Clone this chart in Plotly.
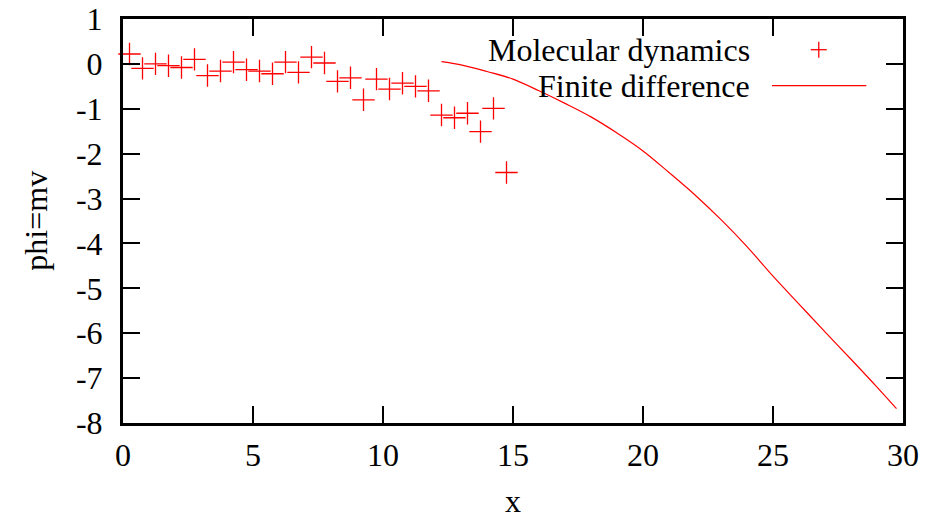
import plotly.graph_objects as go

# Molecular dynamics samples
md_x = [0.25, 0.75, 1.25, 1.75, 2.25, 2.75, 3.25, 3.75, 4.25, 4.75,
        5.25, 5.75, 6.25, 6.75, 7.25, 7.75, 8.25, 8.75, 9.25, 9.75,
        10.25, 10.75, 11.25, 11.75, 12.25, 12.75, 13.25, 13.75, 14.25, 14.75]
md_y = [0.22, -0.10, 0.00, -0.04, -0.08, 0.10, -0.26, -0.16, 0.04, -0.13,
        -0.16, -0.22, 0.04, -0.19, 0.15, 0.02, -0.39, -0.31, -0.80, -0.34,
        -0.56, -0.43, -0.50, -0.60, -1.14, -1.20, -1.10, -1.51, -0.99, -2.42]

# Finite difference curve
fd_x = [12.25, 13, 14, 15, 16, 17, 18, 19, 20, 21, 22, 23, 24, 25, 26, 27, 28, 29, 29.75]
fd_y = [0.05, -0.02, -0.17, -0.34, -0.60, -0.88, -1.18, -1.54, -1.94, -2.42,
        -2.92, -3.47, -4.07, -4.73, -5.35, -5.97, -6.58, -7.20, -7.68]

x_ticks = [0, 5, 10, 15, 20, 25, 30]
y_ticks = [1, 0, -1, -2, -3, -4, -5, -6, -7, -8]

FONT = "Liberation Serif"
RED = "#ff0000"
FS = 32
ROW1 = 0.924
ROW2 = 0.835

fig = go.Figure()
fig.add_trace(go.Scatter(
    x=md_x, y=md_y, mode="markers", name="Molecular dynamics",
    marker=dict(symbol="cross-thin-open", size=16, color=RED,
                line=dict(color=RED, width=1.3)),
    showlegend=False, cliponaxis=False))
fig.add_trace(go.Scatter(
    x=fd_x, y=fd_y, mode="lines", name="Finite difference",
    line=dict(color=RED, width=1.2, shape="spline"),
    showlegend=False))

axis_common = dict(
    showgrid=False, zeroline=False, showline=True, linecolor="black",
    linewidth=3, mirror="allticks", ticks="inside", ticklen=17,
    tickwidth=2, tickcolor="black", automargin=False,
    tickfont=dict(family=FONT, size=FS, color="black"))

fig.update_xaxes(range=[0, 30], tickvals=x_ticks,
                 ticktext=[str(v) for v in x_ticks],
                 ticklabelstandoff=2, **axis_common)
fig.update_yaxes(range=[-8, 1], tickvals=y_ticks,
                 ticktext=[str(v) for v in y_ticks],
                 ticklabelstandoff=11, **axis_common)

annotations = [
    dict(text="x", xref="paper", yref="paper", x=0.5, y=-0.192,
         xanchor="center", yanchor="middle", showarrow=False,
         font=dict(family=FONT, size=FS, color="black")),
    dict(text="phi=mv", xref="paper", yref="paper", x=-0.112, y=0.5,
         xanchor="center", yanchor="middle", textangle=-90, showarrow=False,
         font=dict(family=FONT, size=FS, color="black")),
    dict(text="Molecular dynamics", xref="paper", yref="paper",
         x=0.806, y=ROW1, xanchor="right", yanchor="middle", showarrow=False,
         font=dict(family=FONT, size=FS, color="black")),
    dict(text="Finite difference", xref="paper", yref="paper",
         x=0.806, y=ROW2, xanchor="right", yanchor="middle", showarrow=False,
         font=dict(family=FONT, size=FS, color="black")),
]

shapes = [
    # line sample
    dict(type="line", xref="paper", yref="paper", x0=0.832, x1=0.953,
         y0=ROW2, y1=ROW2, line=dict(color=RED, width=1.2)),
    # plus sample
    dict(type="line", xref="paper", yref="paper", xsizemode="pixel",
         xanchor=0.892, x0=-8, x1=8, y0=ROW1, y1=ROW1,
         line=dict(color=RED, width=1.3)),
    dict(type="line", xref="paper", yref="paper", ysizemode="pixel",
         yanchor=ROW1, y0=-8, y1=8, x0=0.892, x1=0.892,
         line=dict(color=RED, width=1.3)),
]

fig.update_layout(
    width=925, height=518,
    margin=dict(l=123, r=22, t=19, b=95),
    paper_bgcolor="white", plot_bgcolor="white",
    annotations=annotations, shapes=shapes,
    font=dict(family=FONT, size=FS, color="black"),
)

fig.write_html(
    "out.html",
    config={"displayModeBar": False},
    post_script="document.body.style.margin='0px';document.body.style.overflow='hidden';",
)
